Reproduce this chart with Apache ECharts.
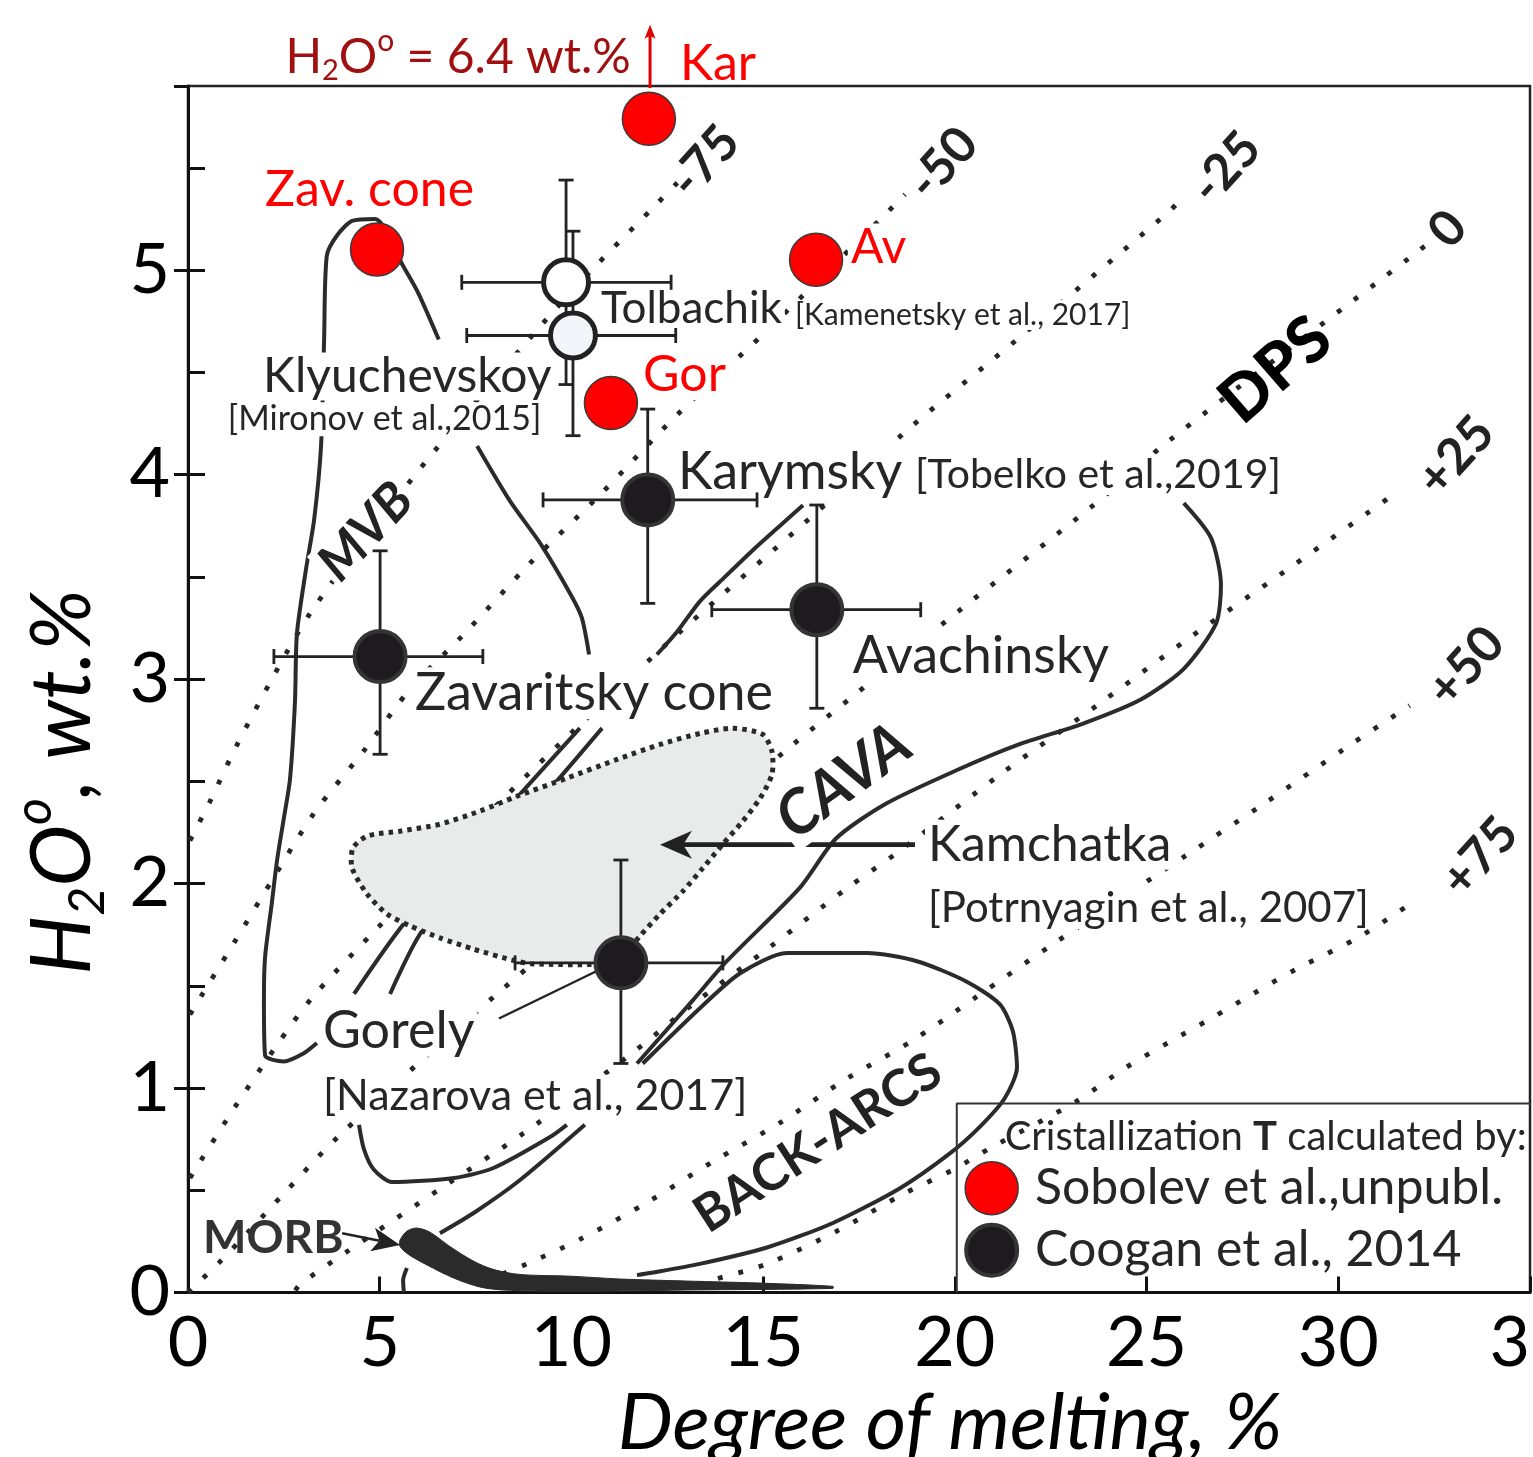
<!DOCTYPE html>
<html><head><meta charset="utf-8">
<script src="https://cdn.jsdelivr.net/npm/echarts@6/dist/echarts.min.js"></script>
<style>html,body{margin:0;padding:0;background:#fff}#c{width:1533px;height:1457px}</style>
</head><body><div id="c"></div>
<script>
const FONT = 'Lato';
const INK = '#262626';

// ---- axes ----
const xMin = 0, xMax = 35, xStep = 5;
const yMin = 0, yMax = 5.9, yStep = 0.5;

// ---- isotherms (deg C relative to dry peridotite solidus) ----
const iso_m75 = [[0.05,2.21],[0.57,2.40],[1.23,2.66],[2.19,3.00],[3.18,3.32],[4.75,3.72],[6.54,4.14],[9.07,4.70],[10.53,5.00],[12.26,5.33],[12.83,5.44]];
const iso_m50 = [[0.05,1.36],[1.20,1.71],[2.27,2.04],[3.31,2.35],[4.59,2.65],[5.79,2.95],[7.20,3.22],[8.94,3.57],[10.74,3.90],[12.80,4.30],[15.02,4.69],[18.28,5.29],[18.70,5.37]];
const iso_m25 = [[0.05,0.56],[1.20,0.90],[2.32,1.21],[3.23,1.44],[4.93,1.78],[8.14,2.40],[9.96,2.73],[12.83,3.23],[16.30,3.80],[18.90,4.24],[21.62,4.66],[25.55,5.28],[25.87,5.34]];
const iso_0   = [[0,0],[0.83,0.15],[1.54,0.29],[2.53,0.49],[3.96,0.77],[8.06,1.46],[15.78,2.68],[17.37,2.92],[20.08,3.33],[23.68,3.86],[25.55,4.16],[32.07,5.09],[32.40,5.14]];
const iso_p25 = [[2.80,0.01],[2.92,0.04],[4.15,0.20],[6.68,0.52],[8.76,0.78],[11.58,1.17],[13.17,1.41],[15.18,1.69],[17.21,1.98],[18.49,2.15],[21.23,2.54],[23.70,2.87],[26.18,3.21],[28.63,3.53],[31.50,3.91]];
const iso_p50 = [[8.20,0.09],[8.84,0.14],[10.22,0.26],[11.97,0.44],[13.69,0.64],[15.44,0.83],[17.13,1.04],[18.88,1.23],[20.52,1.44],[22.61,1.71],[25.97,2.13],[28.06,2.39],[30.17,2.66],[31.86,2.87]];
const iso_p75 = [[13.30,0.04],[13.66,0.06],[15.10,0.14],[16.92,0.30],[18.64,0.48],[19.95,0.60],[20.96,0.71],[23.13,0.93],[24.46,1.10],[25.55,1.22],[26.68,1.34],[27.77,1.46],[28.89,1.58],[30.56,1.74],[31.79,1.89]];
const isoLabels = ['-75','-50','-25','0','+25','+50','+75'];
const isoLabelX = [13.48,19.69,27.07,32.86,33.07,33.33,33.69];
const isoLabelY = [5.53,5.52,5.50,5.20,4.09,3.06,2.13];

// ---- field outlines ----
const mvbA = [[3.36,1.22],[3.02,1.17],[2.50,1.13],[2.01,1.16],[1.98,1.43],[2.01,1.64],[2.19,1.91],[2.32,2.11],[2.50,2.32],[2.66,2.51],[2.79,2.89],[2.84,3.22],[3.08,3.54],[3.29,3.78],[3.47,4.14],[3.55,4.66],[3.62,5.07],[3.89,5.17],[4.28,5.24],[4.88,5.25],[5.61,5.02],[6.00,4.89],[6.54,4.66]];
const mvbB = [[7.54,4.14],[8.40,3.87],[9.20,3.66],[9.99,3.41],[10.27,3.30],[10.46,3.12]];
const cavaL = [[16.04,3.85],[15.44,3.75],[14.73,3.63],[13.95,3.49],[13.35,3.38],[12.75,3.23],[12.23,3.12]];
const lineA = [[10.22,2.76],[8.58,2.42],[5.66,1.81],[4.33,1.46]];
const lineB = [[10.80,2.76],[9.52,2.48],[6.15,1.78],[5.27,1.46]];
const uCurve = [[4.46,0.82],[4.59,0.70],[4.85,0.60],[5.32,0.54],[6.94,0.56],[7.98,0.61],[9.44,0.76],[9.88,0.82]];
const morbLine = [[10.35,0.82],[8.66,0.55],[7.46,0.39],[6.57,0.29]];
const morbStub = [[5.71,0.12],[5.61,0.06],[5.63,0.0]];
const cavaR = [[25.97,3.86],[26.68,3.69],[26.94,3.46],[26.81,3.27],[25.97,3.05],[24.85,2.90],[23.31,2.78],[21.67,2.68],[20.00,2.55],[18.20,2.39],[16.90,2.22],[15.96,1.98],[14.05,1.62],[13.17,1.43],[11.71,1.12]];
const backArcs = [[11.86,1.12],[13.35,1.39],[14.39,1.56],[15.62,1.66],[16.82,1.66],[17.71,1.66],[19.01,1.62],[20.31,1.52],[21.17,1.41],[21.51,1.28],[21.62,1.10],[21.30,0.95],[20.65,0.81],[19.87,0.68],[18.57,0.51],[16.82,0.34],[15.10,0.22],[13.35,0.14],[12.05,0.095],[11.71,0.085]];
const gorelyLeader = [[8.11,1.34],[11.08,1.61]];
const legendBox = [[20.05,0],[20.05,0.924],[35,0.924]];

// Kamchatka melt-inclusion field (Portnyagin et al., 2007)
const kamchatkaField = [[14.21,2.759],[14.99,2.729],[15.23,2.646],[15.23,2.534],[14.92,2.417],[14.47,2.305],[13.95,2.193],[13.43,2.076],[12.91,1.963],[12.31,1.851],[11.79,1.744],[11.32,1.646],[10.74,1.607],[9.00,1.607],[8.53,1.622],[7.43,1.680],[6.57,1.734],[5.79,1.793],[5.19,1.851],[4.67,1.949],[4.28,2.076],[4.30,2.173],[4.67,2.232],[5.53,2.256],[6.57,2.290],[7.61,2.354],[8.58,2.427],[9.88,2.515],[11.19,2.607],[12.31,2.680],[13.35,2.734]];
// MORB field
const morbField = [[5.53,0.256],[5.71,0.300],[5.97,0.315],[6.31,0.295],[6.83,0.225],[7.46,0.152],[7.98,0.112],[8.66,0.088],[9.96,0.080],[11.26,0.066],[13.01,0.056],[14.92,0.046],[16.82,0.030],[16.82,0.020],[13.01,0.012],[9.96,0.005],[8.24,0.012],[7.61,0.027],[6.94,0.070],[6.23,0.135],[5.76,0.185],[5.53,0.225]];

// arrows: [x1,y1,x2,y2] (tip at x2,y2)
const kamArrow = [18.96,2.19,12.31,2.19];
const morbArrow = [4.02,0.29,5.53,0.232];
const karArrow = [12.05,5.89,12.05,6.20];

// ---- data points ----
const sobolevNames = ['Kar','Zav. cone','Av','Gor'];
const sobolevX = [12.02,4.93,16.38,11.03];
const sobolevY = [5.74,5.10,5.05,4.35];

const cooganNames = ['Karymsky','Avachinsky','Zavaritsky cone','Gorely'];
const cooganX   = [11.99,16.40,5.01,11.29];
const cooganY   = [3.876,3.339,3.110,1.612];
const cooganXlo = [9.26,13.66,2.24,8.53];
const cooganXhi = [14.84,19.11,7.69,13.95];
const cooganYlo = [3.37,2.857,2.632,1.12];
const cooganYhi = [4.32,3.851,3.627,2.115];

const tolbX   = [9.86,10.04];
const tolbY   = [4.94,4.68];
const tolbXlo = [7.14,7.27];
const tolbXhi = [12.60,12.72];
const tolbYlo = [4.44,4.19];
const tolbYhi = [5.44,5.19];

const legendRed = [[20.96,0.51]];
const legendBlack = [[20.96,0.207]];

// ---------------------------------------------------------------
const chart = echarts.init(document.getElementById('c'));

function lineS(d, style, z){
  return {type:'line', data:d, symbol:'none', showSymbol:false, smooth:style.smooth===undefined?0.3:style.smooth,
    silent:true, z:z||3, animation:false, lineStyle:Object.assign({color:'#2b2b2b', width:4}, style)};
}
const isoStyle = {color:'#262626', width:4.8, type:[4.8,16.2], cap:'butt'};
const errRows = (X,Y,XL,XH,YL,YH)=>X.map((x,i)=>[x,Y[i],XL[i],XH[i],YL[i],YH[i]]);

function errRender(params, api){
  const x=api.value(0), y=api.value(1);
  const pL=api.coord([api.value(2),y]), pR=api.coord([api.value(3),y]);
  const pT=api.coord([x,api.value(5)]), pB=api.coord([x,api.value(4)]);
  const c=7.5, st={stroke:'#222', lineWidth:2.8};
  const L=(a,b,c2,d)=>({type:'line', shape:{x1:a,y1:b,x2:c2,y2:d}, style:st});
  return {type:'group', children:[
    L(pL[0],pL[1],pR[0],pR[1]), L(pL[0],pL[1]-c,pL[0],pL[1]+c), L(pR[0],pR[1]-c,pR[0],pR[1]+c),
    L(pT[0],pT[1],pB[0],pB[1]), L(pT[0]-c,pT[1],pT[0]+c,pT[1]), L(pB[0]-c,pB[1],pB[0]+c,pB[1])
  ]};
}
function arrowRender(o){
  return function(params, api){
    const p1=api.coord([api.value(0),api.value(1)]), p2=api.coord([api.value(2),api.value(3)]);
    const dx=p2[0]-p1[0], dy=p2[1]-p1[1], len=Math.hypot(dx,dy), ux=dx/len, uy=dy/len;
    const bx=p2[0]-ux*o.hl, by=p2[1]-uy*o.hl, nx=p2[0]-ux*o.hl*o.notch, ny=p2[1]-uy*o.hl*o.notch;
    return {type:'group', children:[
      {type:'line', shape:{x1:p1[0],y1:p1[1],x2:nx,y2:ny}, style:{stroke:o.color, lineWidth:o.w}},
      {type:'polygon', shape:{points:[[p2[0],p2[1]],[bx-uy*o.hw/2,by+ux*o.hw/2],[nx,ny],[bx+uy*o.hw/2,by-ux*o.hw/2]]}, style:{fill:o.color}}
    ]};
  };
}
function polyRender(pts, style, smooth){
  return function(params, api){
    return {type:'polygon', shape:{points:pts.map(p=>api.coord(p)), smooth:smooth}, style:style};
  };
}

const series = [];
[iso_m75, iso_m50, iso_m25, iso_0, iso_p25, iso_p50, iso_p75].forEach(d=>series.push(lineS(d, isoStyle, 2)));
[mvbA, mvbB, cavaL, lineA, lineB, uCurve, morbLine, morbStub, cavaR, backArcs].forEach(d=>series.push(lineS(d, {smooth:0.25}, 3)));
series.push(lineS(gorelyLeader, {width:2.4, color:'#222', smooth:false}, 3));
series.push(lineS(legendBox, {width:2, color:'#333', smooth:false}, 3));
series.push({type:'custom', renderItem:polyRender(kamchatkaField, {fill:'#e9ebea', stroke:'#2a2a2a', lineWidth:5, lineDash:[4.5,5]}, 0.25),
  data:[kamchatkaField[0]], z:5, silent:true, animation:false});
series.push({type:'custom', renderItem:polyRender(morbField, {fill:'#2b2b2b', stroke:'#2b2b2b', lineWidth:1}, 0.3),
  data:[morbField[0]], z:5, silent:true, animation:false});
series.push({type:'custom', renderItem:arrowRender({hl:32, hw:28, notch:0.72, w:4.8, color:'#222'}), data:[kamArrow], encode:{x:[0,2], y:[1,3]}, z:6, silent:true, animation:false});
series.push({type:'custom', renderItem:arrowRender({hl:28, hw:24, notch:0.75, w:2.6, color:'#222'}), data:[morbArrow], encode:{x:[0,2], y:[1,3]}, z:6, silent:true, animation:false});
series.push({type:'custom', renderItem:arrowRender({hl:14, hw:11, notch:0.8, w:3, color:'#e00000'}), data:[karArrow], encode:{x:[0,2], y:[1,3]}, z:6, silent:true, animation:false, clip:false});
series.push({type:'custom', renderItem:errRender, data:errRows(cooganX,cooganY,cooganXlo,cooganXhi,cooganYlo,cooganYhi), encode:{x:0,y:1}, z:45, silent:true, animation:false});
series.push({type:'custom', renderItem:errRender, data:errRows(tolbX,tolbY,tolbXlo,tolbXhi,tolbYlo,tolbYhi), encode:{x:0,y:1}, z:45, silent:true, animation:false});
series.push({type:'scatter', data:cooganX.map((x,i)=>[x,cooganY[i]]), symbolSize:51, z:50, silent:true, animation:false,
  itemStyle:{color:'#1e1b1f', borderColor:'#353535', borderWidth:4, opacity:1}});
series.push({type:'scatter', data:[[tolbX[0],tolbY[0]]], symbolSize:45, z:50, silent:true, animation:false,
  itemStyle:{color:'#ffffff', borderColor:'#222', borderWidth:5, opacity:1}});
series.push({type:'scatter', data:[[tolbX[1],tolbY[1]]], symbolSize:45, z:51, silent:true, animation:false,
  itemStyle:{color:'#f3f5fa', borderColor:'#222', borderWidth:5, opacity:1}});
series.push({type:'scatter', data:sobolevX.map((x,i)=>[x,sobolevY[i]]), symbolSize:53, z:52, silent:true, animation:false,
  itemStyle:{color:'#ff0000', borderColor:'#3a3a3a', borderWidth:1.5, opacity:1}});
series.push({type:'scatter', data:legendRed, symbolSize:53, z:52, silent:true, animation:false,
  itemStyle:{color:'#ff0000', borderColor:'#3a3a3a', borderWidth:1.5, opacity:1}});
series.push({type:'scatter', data:legendBlack, symbolSize:51, z:52, silent:true, animation:false,
  itemStyle:{color:'#1e1b1f', borderColor:'#353535', borderWidth:4, opacity:1}});

const tickFont = {fontFamily:FONT, fontSize:70, color:'#000'};
const option = {
  animation:false,
  backgroundColor:'#fff',
  grid:{left:188, top:86, right:3, bottom:164.5, show:true, borderColor:'#222', borderWidth:2.5, backgroundColor:'transparent',
    containLabel:false, outerBoundsMode:'none'},
  xAxis:[{type:'value', min:xMin, max:xMax, interval:xStep,
    axisLine:{show:true, onZero:false, lineStyle:{color:'#111', width:3}},
    axisTick:{show:true, inside:true, length:16, lineStyle:{color:'#111', width:3}},
    axisLabel:Object.assign({margin:16, showMaxLabel:true, showMinLabel:true, hideOverlap:false}, tickFont),
    splitLine:{show:false}}],
  yAxis:[{type:'value', min:yMin, max:yMax, interval:yStep,
    axisLine:{show:true, onZero:false, lineStyle:{color:'#111', width:3}},
    axisTick:{show:true, inside:true, length:17, lineStyle:{color:'#111', width:3}},
    axisLabel:Object.assign({margin:18, showMaxLabel:false, formatter:v=>(Math.abs(v-Math.round(v))<1e-9)?String(Math.round(v)):''}, tickFont),
    splitLine:{show:false}},
   {type:'value', min:yMin, max:yMax, interval:1, position:'left',
    axisLine:{show:false}, axisTick:{show:true, inside:false, length:14, lineStyle:{color:'#111', width:3}},
    axisLabel:{show:false}, splitLine:{show:false}}],
  series:series
};
chart.setOption(option);

// ---- text annotations ----
const sub = (s, f, pad, color, it)=>({font:`${it?'italic ':''}${f}px ${FONT}`, fill:color, padding:pad});
const annots = [
  {t:'Zav. cone', x:2.01, y:5.39, size:50, color:'#ff0000'},
  {t:'Kar', x:12.83, y:6.01, size:50, color:'#ff0000'},
  {t:'Av', x:17.21, y:5.11, size:48, color:'#ff0000', bg:1},
  {t:'Gor', x:11.79, y:4.485, size:50, color:'#ff0000', bg:1},
  {t:'{n|H}{s|2}{n|O}{p|o}{n| = 6.4 wt.%}', x:2.54, y:6.04, size:48, color:'#a01010',
    rich:{n:sub('',48,0,'#a01010'), s:sub('',29,[26,0,0,0],'#a01010'), p:sub('',30,[0,0,32,0],'#a01010')}},
  {t:'Tolbachik', x:10.69, y:4.81, size:44, bg:1},
  {t:'[Kamenetsky et al., 2017]', x:15.75, y:4.78, size:30, bg:1},
  {t:'Klyuchevskoy', x:1.88, y:4.48, size:48, bg:1},
  {t:'[Mironov et al.,2015]', x:0.96, y:4.27, size:34, bg:1},
  {t:'Karymsky', x:12.70, y:4.01, size:52, bg:1},
  {t:'[Tobelko et al.,2019]', x:18.88, y:4.00, size:41, bg:1},
  {t:'Avachinsky', x:17.26, y:3.11, size:52, bg:1},
  {t:'Zavaritsky cone', x:5.84, y:2.93, size:52, bg:1},
  {t:'Kamchatka', x:19.22, y:2.19, size:50, bg:1},
  {t:'[Potrnyagin et al., 2007]', x:19.22, y:1.88, size:42, bg:1},
  {t:'Gorely', x:3.44, y:1.28, size:52, bg:1},
  {t:'[Nazarova et al., 2017]', x:3.44, y:0.96, size:43, bg:1},
  {t:'MORB', x:0.39, y:0.266, size:46, weight:'bold', color:'#333'},
  {t:'MVB', x:4.64, y:3.72, size:52, weight:'bold', italic:1, rot:47, align:'center', bg:1, color:'#222'},
  {t:'CAVA', x:17.10, y:2.50, size:61, weight:'bold', italic:1, rot:36, align:'center', bg:1, color:'#222'},
  {t:'BACK-ARCS', x:16.43, y:0.73, size:51, weight:'bold', rot:33, align:'center', color:'#222'},
  {t:'DPS', x:28.37, y:4.51, size:64, weight:900, rot:41, align:'center', color:'#000'},
  {t:'{a|Cristallization }{b|T}{a| calculated by:}', x:21.30, y:0.759, size:40,
    rich:{a:{font:`40px ${FONT}`, fill:INK}, b:{font:`bold 40px ${FONT}`, fill:INK}}},
  {t:'Sobolev et al.,unpubl.', x:22.09, y:0.51, size:50},
  {t:'Coogan et al., 2014', x:22.09, y:0.207, size:50}
];
isoLabels.forEach((s,i)=>annots.push({t:s, x:isoLabelX[i], y:isoLabelY[i], size:50, weight:'bold', rot:48, align:'center', color:'#222'}));

const graphics = annots.map(a=>{
  const p = chart.convertToPixel({gridIndex:0},[a.x,a.y]);
  const font = `${a.italic?'italic ':''}${a.weight||'normal'} ${a.size}px ${FONT}`;
  const st = {text:a.t, font:font, fill:a.color||INK, align:a.align||'left', verticalAlign:'middle',
    textAlign:a.align||'left', textVerticalAlign:'middle'};
  if (a.bg){ st.backgroundColor='#fff'; st.padding=[0,3]; }
  if (a.rich) st.rich = a.rich;
  return {type:'text', x:p[0], y:p[1], rotation:(a.rot||0)*Math.PI/180, z:30, silent:true, style:st};
});
// axis titles
graphics.push({type:'text', x:950, y:1424, z:30, silent:true,
  style:{text:'Degree of melting, %', font:`italic 78px ${FONT}`, fill:'#000', align:'center', verticalAlign:'middle', textAlign:'center', textVerticalAlign:'middle'}});
graphics.push({type:'text', x:63, y:782, rotation:Math.PI/2, z:30, silent:true,
  style:{text:'{n|H}{s|2}{n|O}{p|o}{n|, wt.%}', align:'center', verticalAlign:'middle', textAlign:'center', textVerticalAlign:'middle',
    rich:{n:{font:`italic 83px ${FONT}`, fill:'#000'}, s:{font:`italic 50px ${FONT}`, fill:'#000', padding:[50,0,0,0]}, p:{font:`italic 52px ${FONT}`, fill:'#000', padding:[0,0,58,0]}}}});
chart.setOption({graphic:{elements:graphics}});
</script></body></html>
